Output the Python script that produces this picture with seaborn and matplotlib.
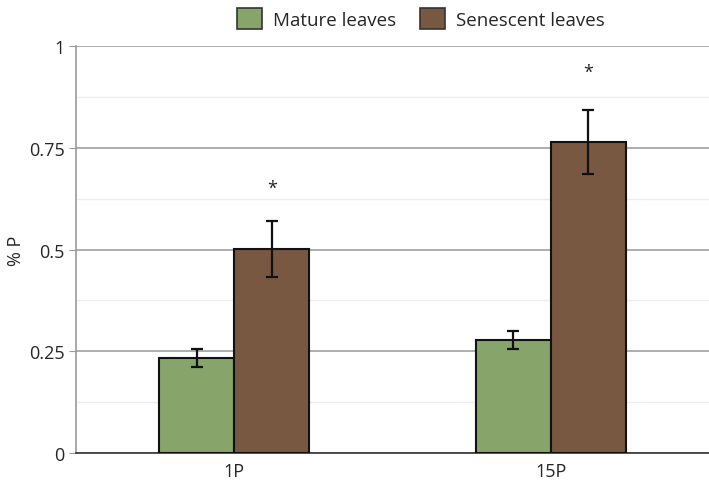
import numpy as np
import pandas as pd
import seaborn as sns
import matplotlib.pyplot as plt
from matplotlib.ticker import MultipleLocator

# values
treatments = ["1P", "15P"]
groups = ["Mature leaves", "Senescent leaves"]
mature_mean = [0.233, 0.278]
mature_err = [0.022, 0.023]
senescent_mean = [0.501, 0.764]
senescent_err = [0.069, 0.078]
star_height = [0.651, 0.936]  # significance marks over senescent bars

df = pd.DataFrame({
    "Treatment": treatments * 2,
    "Leaf": [groups[0]] * 2 + [groups[1]] * 2,
    "P": mature_mean + senescent_mean,
    "err": mature_err + senescent_err,
})

sns.set_style("white")
plt.rcParams["font.family"] = ["Open Sans", "DejaVu Sans"]

fig = plt.figure(figsize=(7.09, 4.81), dpi=100)
ax = fig.add_axes([0.107, 0.056, 0.893, 0.846])

palette = {"Mature leaves": "#87a56b", "Senescent leaves": "#795841"}
sns.barplot(data=df, x="Treatment", y="P", hue="Leaf", order=treatments,
            hue_order=groups, palette=palette, width=0.475, gap=0,
            edgecolor="#111111", linewidth=1.5, errorbar=None, ax=ax, zorder=3,
            saturation=1)

# error bars from bar positions
bars = ax.patches[:4]
for bar, (_, r) in zip(bars, df.iterrows()):
    cx = bar.get_x() + bar.get_width() / 2
    ax.errorbar(cx, r["P"], yerr=r["err"], color="#111111", capsize=4,
                capthick=1.6, elinewidth=1.6, zorder=4)

# significance stars over senescent bars
for bar, h in zip(bars[2:], star_height):
    cx = bar.get_x() + bar.get_width() / 2
    ax.text(cx, h, "*", ha="center", va="center", fontsize=13,
            color="#222222")

ax.set_ylim(0, 1)
ax.set_xlim(-0.5, 1.5)
ax.yaxis.set_major_locator(MultipleLocator(0.25))
ax.yaxis.set_minor_locator(MultipleLocator(0.125))
ax.set_yticks([0, 0.25, 0.5, 0.75, 1])
ax.set_yticklabels(["0", "0.25", "0.5", "0.75", "1"])
ax.grid(axis="y", which="major", color="#a0a0a0", linewidth=1.2, zorder=0)
ax.grid(axis="y", which="minor", color="#ececec", linewidth=1.0, zorder=0)
ax.set_axisbelow(True)

for s in ["top", "right"]:
    ax.spines[s].set_visible(False)
ax.spines["left"].set_color("#9a9a9a")
ax.spines["left"].set_linewidth(1.2)
ax.spines["bottom"].set_color("#333333")
ax.spines["bottom"].set_linewidth(1.2)

ax.tick_params(axis="y", which="major", left=True, length=5, color="#9a9a9a",
               labelsize=13, pad=3)
ax.tick_params(axis="y", which="minor", left=False)
ax.tick_params(axis="x", bottom=False, labelsize=13, pad=3)
ax.set_xlabel("")
ax.set_ylabel("% P", fontsize=13, va="center")
ax.yaxis.set_label_coords(-0.095, 0.5)

leg = ax.legend(loc="upper center", bbox_to_anchor=(0.545, 1.135), ncol=2,
                frameon=False, fontsize=13.5, handlelength=1.3, handleheight=1.3,
                columnspacing=1.3, handletextpad=0.6)
for h in leg.legend_handles:
    h.set_edgecolor("#333333")
    h.set_linewidth(1.2)

fig.savefig("out.png", dpi=100)
